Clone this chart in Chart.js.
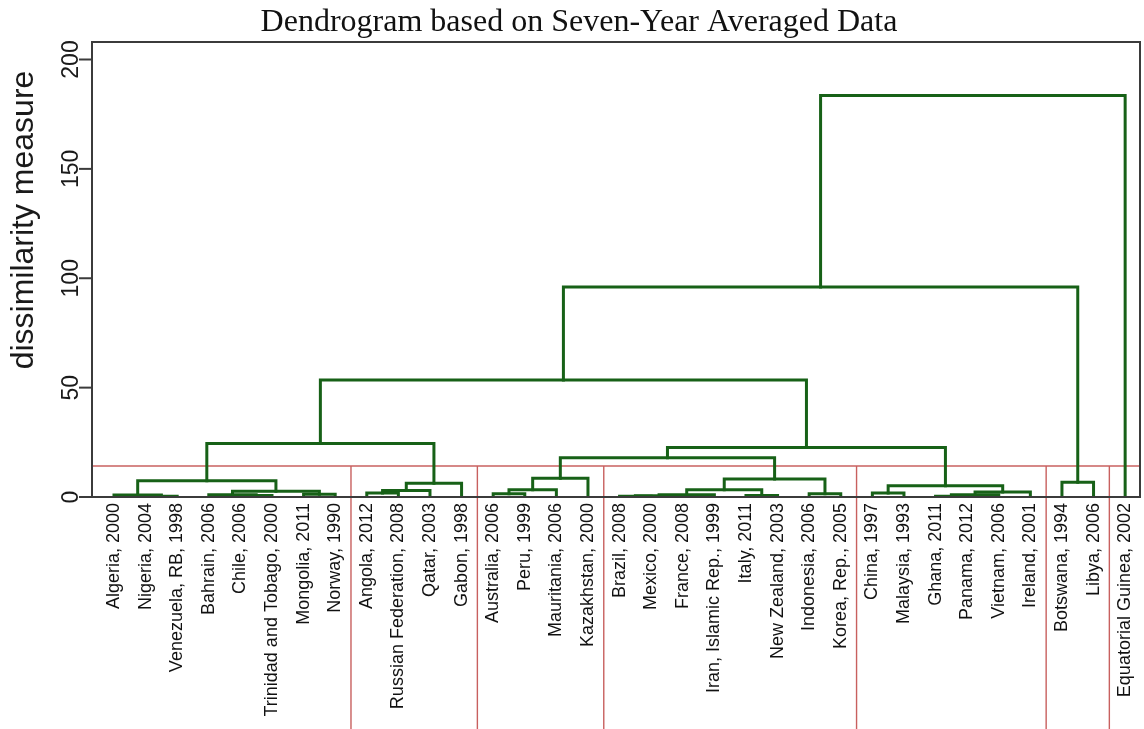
<!DOCTYPE html>
<html>
<head>
<meta charset="utf-8">
<title>Dendrogram</title>
<script src="https://cdn.jsdelivr.net/npm/chart.js@4/dist/chart.umd.min.js"></script>
<style>
  html, body { margin: 0; padding: 0; background: #ffffff; }
  #wrap { position: relative; width: 1144px; height: 729px; }
</style>
</head>
<body>
<div id="wrap"><canvas id="dendro"></canvas></div>
<script>
// Leaves in plotting order (left to right)
const leafLabels = [
  'Algeria, 2000', 'Nigeria, 2004', 'Venezuela, RB, 1998', 'Bahrain, 2006',
  'Chile, 2006', 'Trinidad and Tobago, 2000', 'Mongolia, 2011', 'Norway, 1990',
  'Angola, 2012', 'Russian Federation, 2008', 'Qatar, 2003', 'Gabon, 1998',
  'Australia, 2006', 'Peru, 1999', 'Mauritania, 2006', 'Kazakhstan, 2000',
  'Brazil, 2008', 'Mexico, 2000', 'France, 2008', 'Iran, Islamic Rep., 1999',
  'Italy, 2011', 'New Zealand, 2003', 'Indonesia, 2006', 'Korea, Rep., 2005',
  'China, 1997', 'Malaysia, 1993', 'Ghana, 2011', 'Panama, 2012',
  'Vietnam, 2006', 'Ireland, 2001', 'Botswana, 1994', 'Libya, 2006',
  'Equatorial Guinea, 2002'
];

// Merge table (hclust style): negative = leaf position, positive = earlier merge number
const mergeLeft   = [-2, -1, -5, -4, -7, 4, 2,  -9, 8, 9,  7, -13, 12, 13, -17, 15, 16, -21, 17, -23, 19, 14, -25, -27, 24, 25, 23, 22, 11, -31, 29, -33];
const mergeRight  = [-3,  1, -6,  3, -8, 5, 6, -10, -11, -12, 10, -14, -15, -16, -18, -19, -20, -22, 18, -24, 20, 21, -26, -28, -29, -30, 26, 27, 28, -32, 30, 31];
const mergeHeight = [0.4, 0.9, 0.7, 1.0, 1.3, 2.6, 7.4, 1.8, 3.0, 6.3, 24.5, 1.5, 3.3, 8.6, 0.3, 0.6, 1.0, 0.7, 3.3, 1.5, 8.2, 18.0, 1.8, 0.3, 1.0, 2.3, 5.2, 22.6, 53.5, 6.8, 96.0, 183.5];

// Cluster sizes after cutting the tree, and the cut level
const clusterSizes = [8, 4, 4, 8, 6, 2, 1];
const cutHeight = 14.2;

// Axis ticks and texts
const yTicks = [0, 50, 100, 150, 200];
const chartTitle = 'Dendrogram based on Seven-Year Averaged Data';
const yAxisTitle = 'dissimilarity measure';

const treeColor = '#176117';
const cutColor = '#c8605f';

// Horizontal position and height of every node of the tree
const nodes = [];
function nodeOf(ref) {
  if (ref < 0) return { x: -ref, h: 0 };
  return nodes[ref - 1];
}
const treeSets = [];
for (let k = 0; k < mergeHeight.length; k++) {
  const L = nodeOf(mergeLeft[k]);
  const R = nodeOf(mergeRight[k]);
  const H = mergeHeight[k];
  nodes.push({ x: (L.x + R.x) / 2, h: H });
  treeSets.push({
    data: [{ x: L.x, y: L.h }, { x: L.x, y: H }, { x: R.x, y: H }, { x: R.x, y: R.h }],
    showLine: true, borderColor: treeColor, borderWidth: 3,
    borderCapStyle: 'square', borderJoinStyle: 'miter', order: 0
  });
}

// Cut line and cluster borders
const xMin = 0.304, xMax = 33.47;
const cutSets = [{
  data: [{ x: xMin, y: cutHeight }, { x: xMax, y: cutHeight }],
  showLine: true, borderColor: cutColor, borderWidth: 1.4, order: 1
}];
let acc = 0;
for (let i = 0; i < clusterSizes.length - 1; i++) {
  acc += clusterSizes[i];
  const bx = acc + 0.5;
  cutSets.push({
    data: [{ x: bx, y: cutHeight }, { x: bx, y: -120 }],
    showLine: true, borderColor: cutColor, borderWidth: 1.4, order: 1, clip: false
  });
}

function vText(ctx, s, x, y, align) {
  ctx.save();
  ctx.translate(x, y);
  ctx.rotate(-Math.PI / 2);
  ctx.textAlign = align;
  ctx.textBaseline = 'middle';
  ctx.fillText(s, 0, 0);
  ctx.restore();
}

const decor = {
  id: 'decor',
  afterDraw(chart) {
    const { ctx, chartArea: a } = chart;
    const xs = chart.scales.x, ys = chart.scales.y;
    ctx.save();
    // plot frame
    ctx.strokeStyle = '#3b3b3b';
    ctx.lineWidth = 2;
    ctx.strokeRect(a.left, a.top, a.right - a.left, a.bottom - a.top);

    // y axis ticks and labels
    ctx.fillStyle = '#1a1a1a';
    ctx.font = '23px "Liberation Sans", Arial, sans-serif';
    yTicks.forEach(v => {
      const py = ys.getPixelForValue(v);
      ctx.beginPath();
      ctx.moveTo(a.left - 13, py);
      ctx.lineTo(a.left, py);
      ctx.stroke();
      vText(ctx, String(v), a.left - 20, py, 'center');
    });

    // y axis title
    ctx.font = '32px "Liberation Sans", Arial, sans-serif';
    vText(ctx, yAxisTitle, 24, 220, 'center');

    // leaf labels
    ctx.font = '18px "Liberation Sans", Arial, sans-serif';
    ctx.fillStyle = '#111111';
    leafLabels.forEach((s, i) => {
      vText(ctx, s, xs.getPixelForValue(i + 1), a.bottom + 6, 'right');
    });

    // title
    ctx.font = '32px "Liberation Serif", "Times New Roman", serif';
    ctx.textAlign = 'center';
    ctx.textBaseline = 'alphabetic';
    ctx.fillStyle = '#111111';
    ctx.fillText(chartTitle, 579, 31);
    ctx.restore();
  }
};

new Chart(document.getElementById('dendro'), {
  type: 'scatter',
  data: { datasets: treeSets.concat(cutSets) },
  options: {
    responsive: true,
    maintainAspectRatio: false,
    animation: false,
    events: [],
    layout: { padding: { left: 92, right: 4, top: 42, bottom: 232 } },
    elements: { point: { radius: 0, hoverRadius: 0 }, line: { tension: 0 } },
    plugins: { legend: { display: false }, tooltip: { enabled: false }, title: { display: false } },
    scales: {
      x: { type: 'linear', min: xMin, max: xMax, display: false },
      y: { type: 'linear', min: 0, max: 208, display: false }
    }
  },
  plugins: [decor]
});
</script>
</body>
</html>
